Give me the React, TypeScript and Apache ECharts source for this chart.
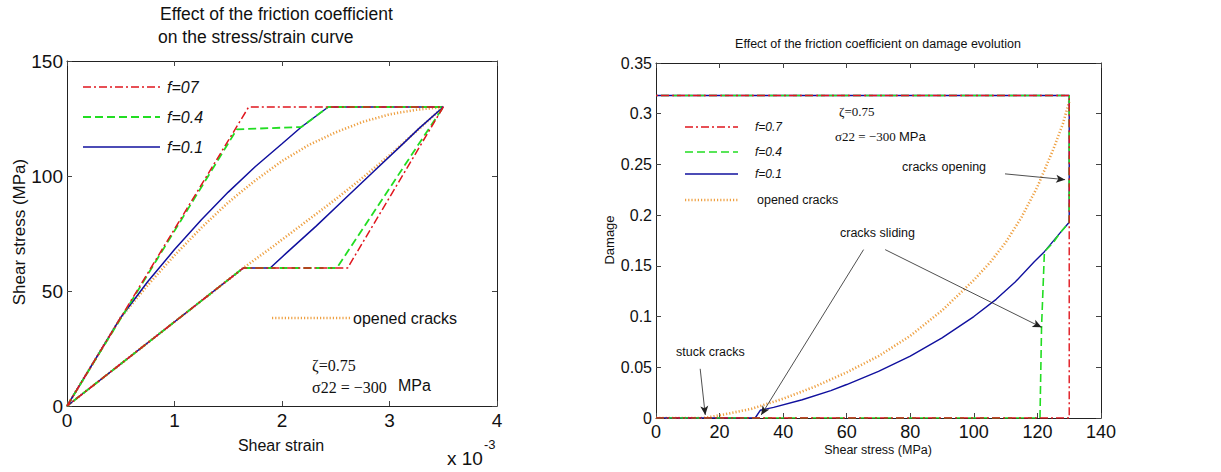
import React, { useEffect, useRef } from 'react';
import * as echarts from 'echarts';

// ---------- Left chart: shear stress (MPa) vs shear strain (x 1e-3) ----------
const leftXTicks = { min: 0, max: 4, interval: 1 };
const leftYTicks = { min: 0, max: 150, interval: 50 };

const leftF07: number[][] = [[0, 0], [1.69, 130], [3.5, 130], [2.61, 60], [1.64, 60], [0, 0]];
const leftF04: number[][] = [
  [0, 0], [1.58, 120.3], [2.18, 121.3], [2.43, 130], [3.5, 130],
  [2.51, 60], [1.64, 60], [0, 0],
];
const leftF01: number[][] = [
  [0, 0], [0.5, 38.5], [0.75, 54], [1.0, 68], [1.25, 81], [1.5, 93], [1.75, 104],
  [2.0, 114], [2.18, 121.3], [2.43, 130], [3.5, 130], [3.27, 120.5], [3.13, 114.2],
  [2.86, 102.3], [2.59, 90.3], [2.32, 78.3], [2.05, 66.9], [1.89, 60], [1.64, 60], [0, 0],
];
const leftOpened: number[][] = [
  [0, 0], [0.5, 38.5], [0.75, 52.5], [1.0, 65.5], [1.25, 77.5], [1.5, 88.5], [1.75, 98],
  [2.0, 106.5], [2.25, 113.5], [2.5, 119], [2.75, 123.5], [3.0, 126.8], [3.25, 128.8],
  [3.5, 130], [3.27, 120.3], [3.0, 109], [2.73, 98.5], [2.46, 88.5], [2.19, 79],
  [1.92, 69.5], [1.64, 60], [0, 0],
];

// ---------- Right chart: damage vs shear stress (MPa) ----------
const rightXTicks = { min: 0, max: 140, interval: 20 };
const rightYTicks = { min: 0, max: 0.35, interval: 0.05 };

const rightF07: number[][] = [[0, 0], [130, 0], [130, 0.318], [0, 0.318]];
const rightF04: number[][] = [
  [0, 0], [120.8, 0], [121.3, 0.09], [122.2, 0.164], [125, 0.173], [127, 0.182],
  [130, 0.193], [130, 0.318], [0, 0.318],
];
const rightF01: number[][] = [
  [0, 0], [31.2, 0], [32.8, 0.0076], [37, 0.0105], [46, 0.018], [55, 0.027], [60, 0.033],
  [70, 0.046], [80, 0.061], [90, 0.079], [100, 0.1], [107, 0.117], [113, 0.134],
  [119, 0.154], [122.2, 0.164], [127, 0.182], [130, 0.193], [130, 0.318], [0, 0.318],
];
const rightOpened: number[][] = [
  [0, 0], [15, 0], [20, 0.0026], [30, 0.009], [40, 0.019], [50, 0.031], [60, 0.045],
  [70, 0.061], [80, 0.081], [90, 0.106], [100, 0.136], [105, 0.153], [110, 0.173],
  [115, 0.198], [120, 0.228], [125, 0.265], [128, 0.29], [130, 0.312],
];

// annotation arrows (data coordinates): [fromX, fromY, toX, toY]
const rightArrows: number[][] = [
  [13.9, 0.0485, 15.5, 0.003],
  [65.3, 0.166, 33.1, 0.003],
  [72.1, 0.166, 121.3, 0.0894],
  [109.8, 0.2407, 128.7, 0.235],
];

const SANS = '"Liberation Sans", Arial, Helvetica, sans-serif';
const SERIF = '"Liberation Serif", "Times New Roman", serif';

const RED = '#e0161e';
const GREEN = '#22dd22';
const BLUE = '#10109e';
const ORANGE = '#eea042';

const DASHDOT = [8, 3, 2, 3];
const DASH = [8, 4];
const DOT = [1.2, 2];

function axisPair(gridIndex: number, ticks: any, horizontal: boolean, labelSize: number) {
  const common = {
    gridIndex,
    type: 'value',
    min: ticks.min,
    max: ticks.max,
    interval: ticks.interval,
    splitLine: { show: false },
    axisLine: { show: true, onZero: false, lineStyle: { color: '#222', width: 1 } },
    axisTick: { show: true, inside: true, length: 5, lineStyle: { color: '#444', width: 1 } },
  };
  return [
    {
      ...common,
      position: horizontal ? 'bottom' : 'left',
      axisLabel: {
        show: true,
        color: '#111',
        fontFamily: SANS,
        fontSize: labelSize,
        margin: horizontal ? 5 : 4,
      },
    },
    {
      ...common,
      position: horizontal ? 'top' : 'right',
      axisLabel: { show: false },
    },
  ];
}

function lineSeries(name: string, data: number[][], xi: number, yi: number, color: string, dash: any, width: number, extra: any = {}) {
  return {
    name,
    type: 'line',
    xAxisIndex: xi,
    yAxisIndex: yi,
    data,
    showSymbol: false,
    symbol: 'none',
    silent: true,
    lineStyle: { color, width, type: dash },
    ...extra,
  };
}

function legendLine(x1: number, x2: number, y: number, color: string, dash: any, width: number) {
  return {
    type: 'line',
    silent: true,
    shape: { x1, y1: y, x2, y2: y },
    style: { stroke: color, lineWidth: width, lineDash: dash },
  };
}

function txt(x: number, y: number, text: string, size: number, opts: any = {}) {
  return {
    type: 'text',
    silent: true,
    x,
    y,
    rotation: opts.rotation || 0,
    style: {
      text,
      fill: '#111',
      fontSize: size,
      fontFamily: opts.family || SANS,
      fontStyle: opts.italic ? 'italic' : 'normal',
      align: opts.align || 'left',
      verticalAlign: 'middle',
    },
  };
}

export default function App() {
  const ref = useRef<HTMLDivElement>(null);

  useEffect(() => {
    if (!ref.current) return;
    const chart = echarts.init(ref.current, null, { renderer: 'svg' });

    const lx = axisPair(0, leftXTicks, true, 19);
    const ly = axisPair(0, leftYTicks, false, 19);
    const rx = axisPair(1, rightXTicks, true, 18);
    const ry = axisPair(1, rightYTicks, false, 16);

    const option: any = {
      animation: false,
      backgroundColor: '#ffffff',
      grid: [
        { left: 67, top: 61, width: 430, height: 345 },
        { left: 656, top: 63, width: 445, height: 355 },
      ],
      xAxis: [lx[0], lx[1], rx[0], rx[1]],
      yAxis: [ly[0], ly[1], ry[0], ry[1]],
      series: [
        lineSeries('opened cracks', leftOpened, 0, 0, ORANGE, DOT, 2.6),
        lineSeries('f=0.1', leftF01, 0, 0, BLUE, 'solid', 1.5),
        lineSeries('f=0.4', leftF04, 0, 0, GREEN, DASH, 1.8),
        lineSeries('f=07', leftF07, 0, 0, RED, DASHDOT, 1.5),
        lineSeries('opened cracks R', rightOpened, 2, 2, ORANGE, DOT, 2.6, {
          markLine: {
            silent: true,
            animation: false,
            symbol: ['none', 'arrow'],
            symbolSize: [6, 9],
            label: { show: false },
            lineStyle: { color: '#222', width: 0.8, type: 'solid' },
            emphasis: { disabled: true },
            data: rightArrows.map((a) => [{ coord: [a[0], a[1]] }, { coord: [a[2], a[3]] }]),
          },
        }),
        lineSeries('f=0.1 R', rightF01, 2, 2, BLUE, 'solid', 1.4),
        lineSeries('f=0.4 R', rightF04, 2, 2, GREEN, DASH, 1.6),
        lineSeries('f=0.7 R', rightF07, 2, 2, RED, DASHDOT, 1.4),
      ],
      graphic: [
        // left titles and labels
        txt(160, 14, 'Effect of the friction coefficient', 17.5),
        txt(158, 37, 'on the stress/strain curve', 17.5),
        txt(19, 232, 'Shear stress (MPa)', 17, { rotation: Math.PI / 2, align: 'center' }),
        txt(281, 445, 'Shear strain', 16, { align: 'center' }),
        txt(447, 458, 'x 10', 19),
        txt(484, 444, '-3', 13),
        // left legend
        legendLine(83, 160, 87, RED, DASHDOT, 1.5),
        txt(167, 87, 'f=07', 16, { italic: true }),
        legendLine(83, 160, 117, GREEN, DASH, 1.8),
        txt(167, 117, 'f=0.4', 16, { italic: true }),
        legendLine(83, 160, 147, BLUE, null, 1.5),
        txt(167, 147, 'f=0.1', 16, { italic: true }),
        legendLine(272, 350, 318, ORANGE, DOT, 2.6),
        txt(353, 318, 'opened cracks', 16),
        txt(312, 365, 'ζ=0.75', 16, { family: SERIF }),
        txt(312, 387, 'σ22 = −300', 16, { family: SERIF }),
        txt(398, 385, 'MPa', 16),
        // right titles and labels
        txt(878, 44, 'Effect of the friction coefficient on damage evolution', 12.5, { align: 'center' }),
        txt(609, 240, 'Damage', 13, { rotation: Math.PI / 2, align: 'center' }),
        txt(878, 450, 'Shear stress (MPa)', 12.5, { align: 'center' }),
        // right legend
        legendLine(685, 738, 127, RED, DASHDOT, 1.4),
        txt(755, 127, 'f=0.7', 12, { italic: true }),
        legendLine(685, 738, 152, GREEN, DASH, 1.6),
        txt(755, 152, 'f=0.4', 12, { italic: true }),
        legendLine(685, 738, 174, BLUE, null, 1.4),
        txt(755, 174, 'f=0.1', 12, { italic: true }),
        legendLine(685, 738, 200, ORANGE, DOT, 2.4),
        txt(757, 200, 'opened cracks', 12.5),
        txt(839, 111, 'ζ=0.75', 13, { family: SERIF }),
        txt(835, 136, 'σ22 = −300', 13, { family: SERIF }),
        txt(899, 136, 'MPa', 13),
        txt(902, 167, 'cracks opening', 12.5),
        txt(840, 233, 'cracks sliding', 12.5),
        txt(676, 352, 'stuck cracks', 12.5),
      ],
    };

    chart.setOption(option);
    return () => chart.dispose();
  }, []);

  return (
    <div
      ref={ref}
      style={{ position: 'fixed', left: 0, top: 0, width: 1221, height: 472, background: '#fff' }}
    />
  );
}
